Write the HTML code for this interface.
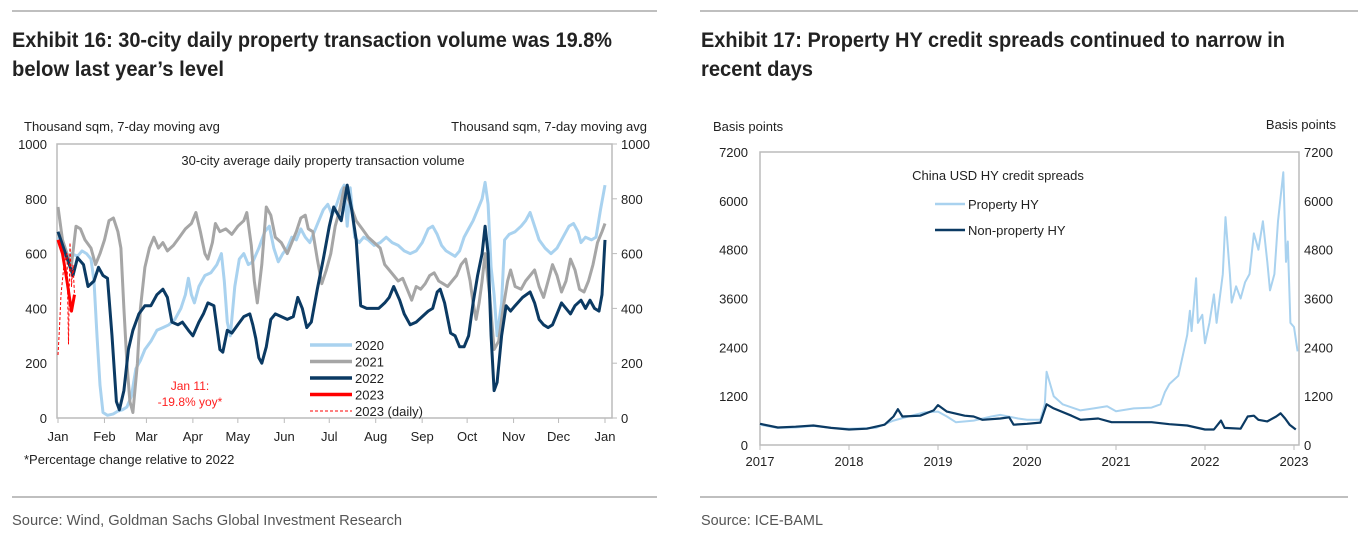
<!DOCTYPE html>
<html><head><meta charset="utf-8">
<style>
html,body{margin:0;padding:0;background:#fff;}
svg{display:block;font-family:"Liberation Sans",Arial,sans-serif;}
.t{font-family:"Liberation Sans Narrow","Liberation Sans",sans-serif;font-weight:bold;fill:#222;font-size:21px;}
.s{font-family:"Liberation Sans Narrow","Liberation Sans",sans-serif;fill:#555;font-size:15px;}
.ax{font-size:13px;fill:#222;}
</style></head>
<body>
<svg id="root" width="1358" height="538" viewBox="0 0 1358 538">
  <line x1="12" y1="11" x2="657" y2="11" stroke="#999" stroke-width="1.2"/>
  <line x1="700" y1="11" x2="1358" y2="11" stroke="#999" stroke-width="1.2"/>
  <text class="t" x="12" y="47" textLength="600" lengthAdjust="spacingAndGlyphs">Exhibit 16: 30-city daily property transaction volume was 19.8%</text>
  <text class="t" x="12" y="76" textLength="212" lengthAdjust="spacingAndGlyphs">below last year’s level</text>
  <text class="t" x="701" y="47" textLength="584" lengthAdjust="spacingAndGlyphs">Exhibit 17: Property HY credit spreads continued to narrow in</text>
  <text class="t" x="701" y="76" textLength="112" lengthAdjust="spacingAndGlyphs">recent days</text>
  <line x1="12" y1="497" x2="657" y2="497" stroke="#999" stroke-width="1.2"/>
  <line x1="700" y1="497" x2="1348" y2="497" stroke="#999" stroke-width="1.2"/>
  <text class="s" x="12" y="525" textLength="390" lengthAdjust="spacingAndGlyphs">Source: Wind, Goldman Sachs Global Investment Research</text>
  <text class="s" x="701" y="525" textLength="122" lengthAdjust="spacingAndGlyphs">Source: ICE-BAML</text>
  <g id="c1"></g>
  <g id="c2"></g>
</svg>
<script>
// ---- Chart 1 data ----
const monthLabels = ["Jan","Feb","Mar","Apr","May","Jun","Jul","Aug","Sep","Oct","Nov","Dec","Jan"];
const monthDays = [0,31,59,90,120,151,181,212,243,273,304,334,365];
const volTicks = [0,200,400,600,800,1000];
const s2020 = [[0,660],[3,620],[6,580],[9,600],[13,590],[16,610],[19,600],[22,580],[24,500],[26,300],[28,120],[30,20],[33,10],[37,15],[40,25],[43,30],[46,40],[49,80],[52,180],[55,210],[58,250],[62,280],[66,320],[70,330],[74,340],[78,360],[82,400],[85,450],[87,510],[89,450],[91,420],[94,480],[98,520],[102,530],[106,560],[109,600],[111,500],[113,350],[115,300],[118,480],[121,580],[124,600],[127,560],[130,570],[134,620],[138,680],[141,700],[144,620],[147,570],[150,600],[153,620],[156,660],[159,650],[162,690],[165,660],[168,640],[171,680],[174,720],[177,760],[180,780],[183,740],[186,780],[189,830],[191,850],[193,700],[195,840],[198,660],[201,640],[204,660],[207,650],[211,630],[215,640],[219,660],[223,640],[227,630],[231,610],[235,600],[239,610],[243,640],[247,690],[250,700],[253,670],[256,630],[259,610],[262,600],[265,590],[268,610],[271,660],[274,690],[277,720],[280,760],[283,800],[285,860],[287,780],[289,550],[291,450],[293,300],[296,420],[298,650],[301,670],[305,680],[309,700],[312,720],[315,750],[318,700],[321,650],[325,620],[329,600],[333,620],[337,660],[341,700],[344,710],[347,680],[349,640],[352,660],[356,650],[359,660],[362,760],[365,850]];
const s2021 = [[0,770],[3,650],[6,600],[9,560],[12,700],[15,690],[18,650],[22,620],[25,560],[28,600],[31,650],[34,720],[37,730],[40,680],[42,620],[44,400],[46,200],[48,60],[50,20],[53,200],[55,400],[58,550],[61,620],[64,660],[67,620],[70,640],[73,610],[77,630],[81,660],[85,690],[89,710],[92,750],[95,680],[98,600],[100,580],[103,640],[105,710],[108,680],[112,690],[116,670],[120,700],[124,720],[126,750],[129,630],[131,500],[133,420],[136,560],[139,770],[142,740],[145,660],[149,640],[153,600],[156,640],[159,680],[162,730],[165,740],[167,690],[170,680],[173,580],[176,490],[179,540],[182,600],[185,700],[188,760],[191,840],[195,780],[199,720],[203,690],[207,660],[211,640],[215,620],[218,560],[221,540],[224,520],[227,500],[230,510],[233,470],[236,430],[239,480],[242,470],[245,490],[248,520],[251,530],[254,500],[257,490],[260,480],[263,500],[266,520],[269,560],[272,580],[275,500],[277,420],[279,360],[281,420],[283,500],[285,600],[288,450],[291,250],[294,280],[297,400],[300,500],[302,540],[305,480],[309,470],[312,500],[315,520],[318,540],[321,480],[324,440],[327,500],[330,560],[333,520],[336,460],[339,500],[342,580],[345,540],[348,470],[351,460],[354,500],[357,560],[360,640],[363,680],[365,710]];
const s2022 = [[0,680],[5,600],[10,520],[13,585],[17,560],[20,480],[24,500],[27,550],[30,520],[33,510],[36,300],[39,60],[41,30],[44,100],[47,250],[50,320],[54,380],[58,410],[62,410],[66,450],[70,470],[73,440],[76,350],[80,340],[83,350],[87,320],[90,300],[94,350],[97,380],[100,420],[104,410],[106,330],[108,250],[110,240],[113,320],[116,310],[120,340],[124,370],[128,380],[130,340],[132,290],[134,220],[136,200],[139,260],[142,360],[145,380],[149,370],[153,360],[157,370],[160,440],[163,400],[166,330],[169,350],[173,470],[177,580],[181,700],[184,770],[187,740],[189,720],[193,850],[196,760],[199,650],[202,410],[206,400],[210,400],[214,400],[218,420],[221,440],[224,480],[228,430],[231,380],[235,340],[239,350],[243,370],[247,390],[250,400],[253,460],[255,470],[258,420],[262,310],[265,300],[268,260],[271,260],[274,300],[277,420],[280,520],[283,600],[285,700],[287,600],[289,300],[291,100],[293,130],[296,300],[299,410],[302,390],[305,410],[310,440],[315,460],[318,420],[321,360],[324,340],[327,330],[330,340],[333,380],[336,420],[339,400],[342,380],[345,410],[349,430],[352,400],[355,430],[358,400],[361,390],[363,450],[365,650]];
const s2023 = [[0,650],[3,600],[6,500],[9,390],[11,450]];
const s2023daily = [[0,230],[1,330],[2,450],[4,560],[6,600],[7,270],[8,640],[9,480],[10,560],[11,450]];
const seriesNames = ["2020","2021","2022","2023","2023 (daily)"];

// ---- Chart 2 data ----
const yearLabels = ["2017","2018","2019","2020","2021","2022","2023"];
const bpTicks = [0,1200,2400,3600,4800,6000,7200];
const propertyHY = [[2017,500],[2017.2,420],[2017.4,430],[2017.6,470],[2017.8,420],[2018,400],[2018.3,420],[2018.5,600],[2018.7,720],[2018.85,800],[2019,820],[2019.1,700],[2019.2,560],[2019.4,600],[2019.6,700],[2019.7,740],[2019.9,650],[2020,620],[2020.15,620],[2020.2,1000],[2020.22,1800],[2020.3,1200],[2020.4,1000],[2020.6,850],[2020.75,900],[2020.9,950],[2021,830],[2021.2,900],[2021.4,920],[2021.5,1000],[2021.55,1300],[2021.6,1500],[2021.7,1700],[2021.75,2200],[2021.8,2700],[2021.83,3300],[2021.85,2800],[2021.9,4100],[2021.92,3000],[2021.97,3200],[2022,2500],[2022.05,3000],[2022.1,3700],[2022.13,3000],[2022.2,4200],[2022.23,5600],[2022.28,4200],[2022.3,3500],[2022.35,3900],[2022.4,3600],[2022.45,4000],[2022.5,4200],[2022.55,5200],[2022.6,4800],[2022.65,5500],[2022.7,4500],[2022.73,3800],[2022.78,4200],[2022.82,5500],[2022.88,6700],[2022.91,4500],[2022.93,5000],[2022.96,3000],[2023.0,2900],[2023.04,2300]];
const nonPropertyHY = [[2017,520],[2017.2,430],[2017.4,450],[2017.6,480],[2017.8,420],[2018,380],[2018.2,400],[2018.4,500],[2018.5,700],[2018.55,880],[2018.6,700],[2018.8,720],[2018.95,850],[2019,980],[2019.1,820],[2019.3,720],[2019.4,700],[2019.5,620],[2019.7,650],[2019.8,680],[2019.85,500],[2020,520],[2020.15,550],[2020.22,1000],[2020.3,900],[2020.5,720],[2020.6,620],[2020.8,650],[2020.95,560],[2021.2,560],[2021.4,560],[2021.6,510],[2021.8,480],[2022,380],[2022.1,380],[2022.18,600],[2022.22,420],[2022.4,400],[2022.48,700],[2022.55,720],[2022.6,620],[2022.7,580],[2022.8,700],[2022.85,780],[2022.9,650],[2022.95,500],[2023.02,380]];

const NS="http://www.w3.org/2000/svg";
function mk(parent,tag,attrs,text){const e=document.createElementNS(NS,tag);for(const k in attrs)e.setAttribute(k,attrs[k]);if(text!==undefined)e.textContent=text;parent.appendChild(e);return e;}

// Chart 1
const c1=document.getElementById('c1');
const X1=d=>58+d/365*547, Y1=v=>418-v/1000*274;
let e;
e=mk(c1,'rect',{x:57,y:144,width:555,height:274,fill:'none',stroke:'#bbb','stroke-width':1.5});


volTicks.forEach(v=>{
  e=mk(c1,'text',{x:47,y:Y1(v)+5,'text-anchor':'end',class:'ax'},String(v));
  
  
  e=mk(c1,'text',{x:621,y:Y1(v)+5,class:'ax'},String(v));
  
  
  mk(c1,'line',{x1:612,x2:617,y1:Y1(v),y2:Y1(v),stroke:'#bbb'});
});
monthLabels.forEach((m,i)=>{
  const x=X1(monthDays[i]);
  mk(c1,'line',{x1:x,x2:x,y1:418,y2:423,stroke:'#bbb'});
  e=mk(c1,'text',{x:x,y:441,'text-anchor':'middle',class:'ax'},m);
  
  
});
e=mk(c1,'text',{x:24,y:131,class:'ax'},'Thousand sqm, 7-day moving avg');


e=mk(c1,'text',{x:647,y:131,class:'ax','text-anchor':'end'},'Thousand sqm, 7-day moving avg');


e=mk(c1,'text',{x:323,y:165,class:'ax','text-anchor':'middle'},'30-city average daily property transaction volume');


e=mk(c1,'text',{x:24,y:464,class:'ax'},'*Percentage change relative to 2022');


function pl(g,data,X,Y,col,w,dash){return mk(g,'polyline',{points:data.map(p=>X(p[0]).toFixed(1)+','+Y(p[1]).toFixed(1)).join(' '),fill:'none',stroke:col,'stroke-width':w,'stroke-linejoin':'round','stroke-dasharray':dash||'none'});}
const cols=['#a9d2ef','#a6a6a6','#0b3a63','#ff0000','#ff0000'];
e=pl(c1,s2020,X1,Y1,cols[0],3);


e=pl(c1,s2021,X1,Y1,cols[1],3);


e=pl(c1,s2022,X1,Y1,cols[2],3);


e=pl(c1,s2023daily,X1,Y1,cols[4],1,'3,2');


e=pl(c1,s2023,X1,Y1,cols[3],3);


e=mk(c1,'text',{x:190,y:390,fill:'#ff2020','font-size':'12','text-anchor':'middle'},'Jan 11:');


e=mk(c1,'text',{x:190,y:406,fill:'#ff2020','font-size':'12','text-anchor':'middle'},'-19.8% yoy*');


seriesNames.forEach((n,i)=>{
  const y=345+i*16.5;
  mk(c1,'line',{x1:310,x2:352,y1:y,y2:y,stroke:cols[i],'stroke-width':i==4?1:3.5,'stroke-dasharray':i==4?'3,2':'none'});
  e=mk(c1,'text',{x:355,y:y+5,class:'ax'},n);
  
  
});

// Chart 2
const c2=document.getElementById('c2');
const X2=t=>760+(t-2017)/6*534, Y2=v=>445-v/7200*293;
e=mk(c2,'rect',{x:760,y:152,width:539,height:293,fill:'none',stroke:'#bbb','stroke-width':1.5});


bpTicks.forEach(v=>{
  e=mk(c2,'text',{x:748,y:Y2(v)+5,'text-anchor':'end',class:'ax'},String(v));
  
  
  e=mk(c2,'text',{x:1304,y:Y2(v)+5,class:'ax'},String(v));
  
  
});
yearLabels.forEach((yl,i)=>{
  const x=X2(2017+i);
  mk(c2,'line',{x1:x,x2:x,y1:445,y2:450,stroke:'#bbb'});
  e=mk(c2,'text',{x:x,y:466,'text-anchor':'middle',class:'ax'},yl);
  
  
});
e=mk(c2,'text',{x:713,y:131,class:'ax'},'Basis points');


e=mk(c2,'text',{x:1336,y:129,class:'ax','text-anchor':'end'},'Basis points');


e=mk(c2,'text',{x:998,y:180,class:'ax','text-anchor':'middle'},'China USD HY credit spreads');


e=pl(c2,propertyHY,X2,Y2,'#a9d2ef',2);


e=pl(c2,nonPropertyHY,X2,Y2,'#0b3a63',2.2);


[['Property HY','#a9d2ef'],['Non-property HY','#0b3a63']].forEach((p,i)=>{
  const y=204+i*26;
  mk(c2,'line',{x1:935,x2:965,y1:y,y2:y,stroke:p[1],'stroke-width':2.5});
  e=mk(c2,'text',{x:968,y:y+5,class:'ax'},p[0]);
  
  
});
</script>
</body></html>
